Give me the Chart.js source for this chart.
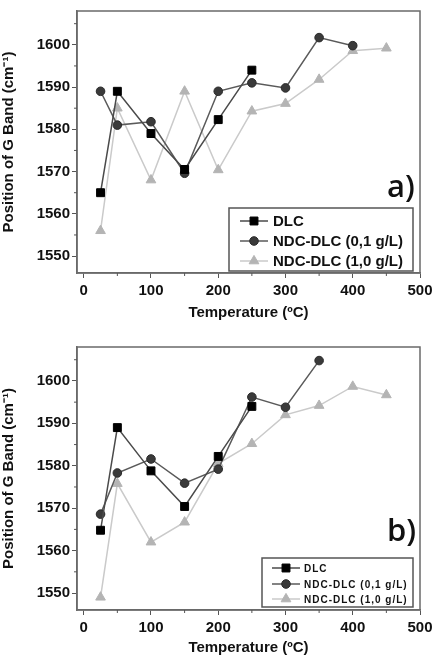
<!DOCTYPE html>
<html>
<head>
<meta charset="utf-8">
<script src="https://cdn.jsdelivr.net/npm/chart.js"></script>
<style>
  html, body { margin: 0; padding: 0; background: #fff; }
  .panel { position: absolute; left: 0; width: 439px; }
  #wrapA { top: 0; height: 330px; }
  #wrapB { top: 330px; height: 329px; }
</style>
</head>
<body>
<div class="panel" id="wrapA"><canvas id="chartA" width="439" height="330"></canvas></div>
<div class="panel" id="wrapB"><canvas id="chartB" width="439" height="329"></canvas></div>
<script>
// temperatures (ºC)
const temps = [25, 50, 100, 150, 200, 250, 300, 350, 400, 450];

// panel a)
const aDlc = [1565, 1589, 1579, 1570.5, 1582.3, 1594];
const aNdc01 = [1589, 1581, 1581.8, 1569.6, 1589, 1591, 1589.8, 1601.7, 1599.8];
const aNdc10 = [1556, 1585, 1568, 1589, 1570.4, 1584.3, 1586.1, 1591.8, 1598.6, 1599.2];

// panel b)
const bDlc = [1564.8, 1589, 1578.8, 1570.4, 1582.2, 1594];
const bNdc01 = [1568.6, 1578.3, 1581.6, 1575.9, 1579.2, 1596.2, 1593.8, 1604.8];
const bNdc10 = [1549, 1575.8, 1562, 1566.7, 1580.5, 1585.2, 1592, 1594.2, 1598.7, 1596.7];

const seriesNames = ['DLC', 'NDC-DLC (0,1 g/L)', 'NDC-DLC (1,0 g/L)'];
const xTickValues = [0, 100, 200, 300, 400, 500];
const yTickValues = [1550, 1560, 1570, 1580, 1590, 1600];

const FONT = '"Liberation Sans", Arial, sans-serif';

function toPoints(values) {
  return values.map((v, i) => ({ x: temps[i], y: v }));
}

const styles = [
  { borderColor: '#4a4a4a', pointStyle: 'rect', pointRadius: 5.6, pointBackgroundColor: '#000', pointBorderColor: '#000' },
  { borderColor: '#5a5a5a', pointStyle: 'circle', pointRadius: 4.3, pointBackgroundColor: '#3a3a3a', pointBorderColor: '#2a2a2a' },
  { borderColor: '#cacaca', pointStyle: 'triangle', pointRadius: 5.6, pointBackgroundColor: '#b4b4b4', pointBorderColor: '#b4b4b4' }
];

// frame, minor ticks, legend box and panel letter
const decorPlugin = {
  id: 'decor',
  afterDraw(chart) {
    const o = chart.options.plugins.decor;
    const ctx = chart.ctx;
    const a = chart.chartArea;
    const xs = chart.scales.x;
    const ys = chart.scales.y;
    ctx.save();
    // frame
    ctx.strokeStyle = '#6a6a6a';
    ctx.lineWidth = 1.5;
    ctx.strokeRect(a.left, a.top, a.right - a.left, a.bottom - a.top);
    // minor ticks
    ctx.lineWidth = 1;
    ctx.strokeStyle = '#555';
    ctx.beginPath();
    for (let v = 50; v < 500; v += 100) {
      const px = xs.getPixelForValue(v);
      ctx.moveTo(px, a.bottom);
      ctx.lineTo(px, a.bottom + 3);
    }
    for (let v = 1545; v <= 1605; v += 10) {
      const py = ys.getPixelForValue(v);
      if (py < a.top || py > a.bottom) continue;
      ctx.moveTo(a.left, py);
      ctx.lineTo(a.left - 3, py);
    }
    ctx.stroke();

    // legend
    const L = o.legend;
    ctx.fillStyle = '#fff';
    ctx.fillRect(L.x, L.y, L.w, L.h);
    ctx.strokeStyle = '#555';
    ctx.lineWidth = 1.5;
    ctx.strokeRect(L.x, L.y, L.w, L.h);
    ctx.font = 'bold ' + L.fontSize + 'px ' + FONT;
    ctx.letterSpacing = L.spacing;
    ctx.textBaseline = 'middle';
    ctx.textAlign = 'left';
    chart.data.datasets.forEach((ds, i) => {
      const y = L.rowY[i];
      ctx.strokeStyle = ds.borderColor;
      ctx.lineWidth = 1.5;
      ctx.beginPath();
      ctx.moveTo(L.lineX0, y);
      ctx.lineTo(L.lineX1, y);
      ctx.stroke();
      ctx.fillStyle = ds.pointBackgroundColor;
      ctx.strokeStyle = ds.pointBorderColor;
      ctx.lineWidth = 1;
      Chart.helpers.drawPoint(ctx, { pointStyle: ds.pointStyle, radius: ds.pointRadius, rotation: 0, borderWidth: 1 }, (L.lineX0 + L.lineX1) / 2, y);
      ctx.fillStyle = '#111';
      ctx.fillText(ds.label, L.textX, y + 1);
    });
    ctx.letterSpacing = '0px';

    // panel letter
    ctx.fillStyle = '#111';
    ctx.font = '600 31px "Open Sans", sans-serif';
    ctx.textBaseline = 'alphabetic';
    ctx.fillText(o.letter, o.letterX, o.letterY);
    ctx.restore();
  }
};

function makeChart(id, dlc, ndc01, ndc10, layout) {
  const data = [dlc, ndc01, ndc10];
  new Chart(document.getElementById(id), {
    type: 'line',
    data: {
      datasets: data.map((vals, i) => Object.assign({
        label: seriesNames[i],
        data: toPoints(vals),
        borderWidth: 1.5,
        pointBorderWidth: 1,
        tension: 0
      }, styles[i]))
    },
    options: {
      responsive: false,
      animation: false,
      devicePixelRatio: 1,
      layout: { padding: { top: layout.top, right: 19, left: 0, bottom: 0 } },
      plugins: {
        legend: { display: false },
        tooltip: { enabled: false },
        decor: layout.decor
      },
      scales: {
        x: {
          type: 'linear',
          min: -10,
          max: 500,
          afterBuildTicks: (axis) => { axis.ticks = xTickValues.map(v => ({ value: v })); },
          afterFit: (axis) => { axis.height = layout.xHeight; },
          grid: { drawOnChartArea: false, drawTicks: true, tickLength: 5, color: '#555' },
          border: { display: true, color: '#6a6a6a', width: 1.5 },
          ticks: { color: '#111', padding: 4, maxRotation: 0, callback: (v) => String(v), font: { family: FONT, size: 15, weight: 'bold' } },
          title: {
            display: true,
            text: 'Temperature (ºC)',
            color: '#111',
            padding: { top: 0, bottom: layout.xTitlePad },
            font: { family: FONT, size: 15, weight: 'bold' }
          }
        },
        y: {
          type: 'linear',
          min: 1546,
          max: 1608,
          afterBuildTicks: (axis) => { axis.ticks = yTickValues.map(v => ({ value: v })); },
          afterFit: (axis) => { axis.width = 77; },
          grid: { drawOnChartArea: false, drawTicks: true, tickLength: 5, color: '#555' },
          border: { display: true, color: '#6a6a6a', width: 1.5 },
          ticks: { color: '#111', padding: 2, callback: (v) => String(v), font: { family: FONT, size: 15, weight: 'bold' } },
          title: {
            display: true,
            text: 'Position of G Band (cm⁻¹)',
            color: '#111',
            padding: { top: 0, bottom: 0 },
            font: { family: FONT, size: 15, weight: 'bold' }
          }
        }
      }
    },
    plugins: [decorPlugin]
  });
}

makeChart('chartA', aDlc, aNdc01, aNdc10, {
  top: 10,
  xHeight: 57,
  xTitlePad: 8,
  decor: {
    letter: 'a)', letterX: 387, letterY: 197,
    legend: { x: 229, y: 208, w: 184, h: 63, rowY: [221, 241, 261], lineX0: 240, lineX1: 268, textX: 273, fontSize: 15, spacing: '0px' }
  }
});

makeChart('chartB', bDlc, bNdc01, bNdc10, {
  top: 17,
  xHeight: 49,
  xTitlePad: 2,
  decor: {
    letter: 'b)', letterX: 387, letterY: 211,
    legend: { x: 262, y: 228, w: 151, h: 49, rowY: [238, 254, 269], lineX0: 272, lineX1: 300, textX: 304, fontSize: 10, spacing: '1px' }
  }
});
</script>
</body>
</html>
